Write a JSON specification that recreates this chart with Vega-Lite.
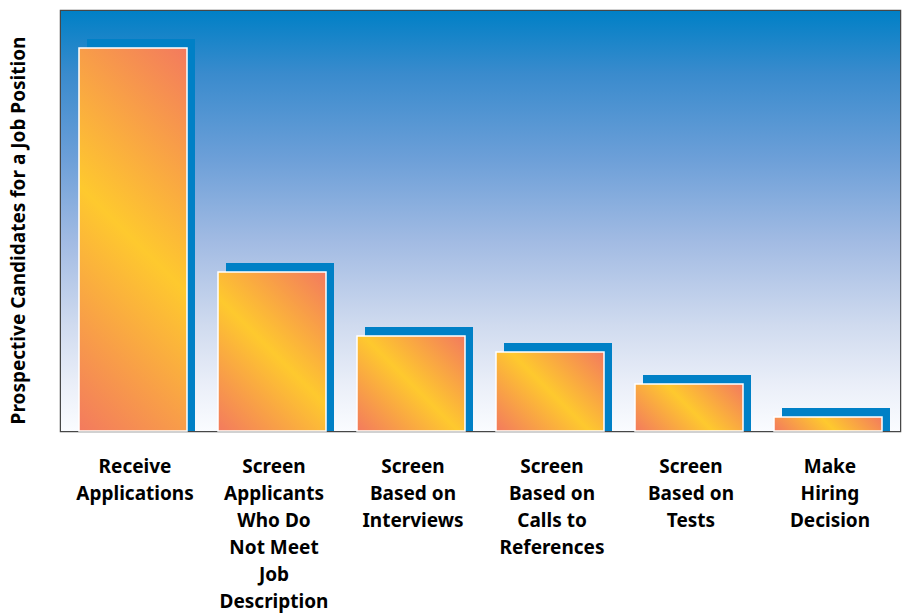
{
  "$schema": "https://vega.github.io/schema/vega-lite/v6.json",
  "autosize": "none",
  "padding": {"left": 61, "top": 11, "right": 2, "bottom": 182},
  "width": 839,
  "height": 420,
  "background": "white",
  "config": {
    "view": {"stroke": "#474747", "strokeWidth": 2.5},
    "axis": {"grid": false}
  },
  "data": {
    "values": [
      {"stage": "Receive|Applications", "candidates": 383},
      {"stage": "Screen|Applicants|Who Do|Not Meet|Job|Description", "candidates": 159},
      {"stage": "Screen|Based on|Interviews", "candidates": 95},
      {"stage": "Screen|Based on|Calls to|References", "candidates": 79},
      {"stage": "Screen|Based on|Tests", "candidates": 47},
      {"stage": "Make|Hiring|Decision", "candidates": 14}
    ]
  },
  "layer": [
    {
      "data": {"values": [{"bg": 1}]},
      "mark": {
        "type": "rect",
        "fill": {
          "gradient": "linear", "x1": 0, "y1": 0, "x2": 0, "y2": 1,
          "stops": [
            {"offset": 0, "color": "#0080c6"},
            {"offset": 0.15, "color": "#3a8bcd"},
            {"offset": 0.35, "color": "#6c9fd8"},
            {"offset": 0.55, "color": "#a2bbe3"},
            {"offset": 0.75, "color": "#d0dbef"},
            {"offset": 0.9, "color": "#ecf0f9"},
            {"offset": 1, "color": "#fafcff"}
          ]
        }
      },
      "encoding": {}
    },
    {
      "mark": {"type": "bar", "color": "#0080c6", "xOffset": 8, "yOffset": -9, "y2Offset": 9, "clip": true},
      "encoding": {
        "x": {
          "field": "stage", "type": "nominal", "sort": null,
          "scale": {"paddingInner": 0.223, "paddingOuter": 0.1295},
          "axis": {
            "title": null, "domain": false, "ticks": false, "labelAngle": 0,
            "labelExpr": "split(datum.value, '|')",
            "labelFont": "Noto Sans", "labelFontWeight": "bold", "labelFontSize": 19,
            "labelColor": "#000000", "labelLineHeight": 27, "labelPadding": 26,
            "labelLimit": 0, "labelOffset": 2
          }
        },
        "y": {
          "field": "candidates", "type": "quantitative", "stack": null,
          "scale": {"domain": [0, 420], "nice": false},
          "axis": {
            "title": "Prospective Candidates for a Job Position",
            "domain": false, "ticks": false, "labels": false,
            "titleFont": "Noto Sans", "titleFontWeight": "bold", "titleFontSize": 19,
            "titleColor": "#000000", "titlePadding": 33, "titleY": 219
          }
        },
        "y2": {"datum": 0}
      }
    },
    {
      "mark": {"type": "bar", "stroke": "white", "strokeWidth": 1.5},
      "encoding": {
        "x": {"field": "stage", "type": "nominal", "sort": null},
        "y": {"field": "candidates", "type": "quantitative"},
        "fill": {
          "condition": [
            {"test": "datum.candidates === 383", "value": {"gradient": "linear", "x1": 0, "y1": 1, "x2": 0.335, "y2": -0.188,
              "stops": [{"offset": 0, "color": "#f37a5e"}, {"offset": 0.5, "color": "#fec92e"}, {"offset": 1, "color": "#f37a5e"}]}},
            {"test": "datum.candidates === 159", "value": {"gradient": "linear", "x1": 0, "y1": 1, "x2": 0.78, "y2": -0.149,
              "stops": [{"offset": 0, "color": "#f37a5e"}, {"offset": 0.5, "color": "#fec92e"}, {"offset": 1, "color": "#f37a5e"}]}},
            {"test": "datum.candidates === 95", "value": {"gradient": "linear", "x1": 0, "y1": 1, "x2": 1.06, "y2": 0.068,
              "stops": [{"offset": 0, "color": "#f37a5e"}, {"offset": 0.5, "color": "#fec92e"}, {"offset": 1, "color": "#f37a5e"}]}},
            {"test": "datum.candidates === 79", "value": {"gradient": "linear", "x1": 0, "y1": 1, "x2": 1.128, "y2": 0.175,
              "stops": [{"offset": 0, "color": "#f37a5e"}, {"offset": 0.5, "color": "#fec92e"}, {"offset": 1, "color": "#f37a5e"}]}},
            {"test": "datum.candidates === 47", "value": {"gradient": "linear", "x1": 0, "y1": 1, "x2": 1.207, "y2": 0.475,
              "stops": [{"offset": 0, "color": "#f37a5e"}, {"offset": 0.5, "color": "#fec92e"}, {"offset": 1, "color": "#f37a5e"}]}}
          ],
          "value": {"gradient": "linear", "x1": 0, "y1": 1, "x2": 1.111, "y2": 0.856,
            "stops": [{"offset": 0, "color": "#f37a5e"}, {"offset": 0.5, "color": "#fec92e"}, {"offset": 1, "color": "#f37a5e"}]}
        }
      }
    }
  ]
}
